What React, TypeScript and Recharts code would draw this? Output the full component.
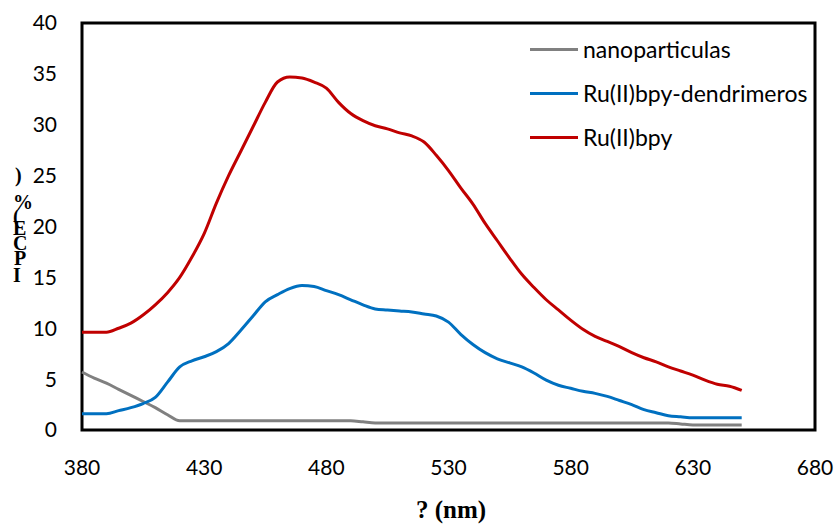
import React from "react";
import { LineChart, Line, XAxis, YAxis, ReferenceArea } from "recharts";

const wavelengths = [
  380, 385, 390, 395, 400, 405, 410, 415, 420, 425, 430, 435, 440, 445, 450, 455, 460, 465, 470,
  475, 480, 485, 490, 495, 500, 505, 510, 515, 520, 525, 530, 535, 540, 545, 550, 555, 560, 565,
  570, 575, 580, 585, 590, 595, 600, 605, 610, 615, 620, 625, 630, 635, 640, 645, 650,
];

const nanoparticulas = [
  5.7, 5.1, 4.6, 4.0, 3.4, 2.8, 2.2, 1.5, 0.9, 0.9, 0.9, 0.9, 0.9, 0.9, 0.9, 0.9, 0.9, 0.9, 0.9,
  0.9, 0.9, 0.9, 0.9, 0.8, 0.7, 0.7, 0.7, 0.7, 0.7, 0.7, 0.7, 0.7, 0.7, 0.7, 0.7, 0.7, 0.7, 0.7,
  0.7, 0.7, 0.7, 0.7, 0.7, 0.7, 0.7, 0.7, 0.7, 0.7, 0.7, 0.6, 0.5, 0.5, 0.5, 0.5, 0.5,
];

const rubpyDendrimeros = [
  1.6, 1.6, 1.6, 1.9, 2.2, 2.6, 3.2, 4.7, 6.2, 6.8, 7.2, 7.7, 8.5, 9.8, 11.2, 12.6, 13.3, 13.9, 14.2,
  14.1, 13.7, 13.3, 12.8, 12.3, 11.9, 11.8, 11.7, 11.6, 11.4, 11.2, 10.6, 9.4, 8.4, 7.6, 7.0, 6.6, 6.2, 5.6,
  4.9, 4.4, 4.1, 3.8, 3.6, 3.3, 2.9, 2.5, 2.0, 1.7, 1.4, 1.3, 1.2, 1.2, 1.2, 1.2, 1.2,
];

const rubpy = [
  9.6, 9.6, 9.6, 10.0, 10.5, 11.3, 12.3, 13.5, 15.0, 17.0, 19.3, 22.3, 25.0, 27.4, 29.8, 32.2, 34.2, 34.7, 34.6,
  34.2, 33.6, 32.2, 31.1, 30.4, 29.9, 29.6, 29.2, 28.9, 28.3, 27.0, 25.5, 23.8, 22.2, 20.3, 18.6, 16.9, 15.3, 14.0,
  12.8, 11.8, 10.8, 9.9, 9.2, 8.7, 8.2, 7.6, 7.1, 6.7, 6.2, 5.8, 5.4, 4.9, 4.5, 4.3, 3.9,
];

const xTicks = [380, 430, 480, 530, 580, 630, 680];
const yTicks = [0, 5, 10, 15, 20, 25, 30, 35, 40];

const seriesInfo = [
  { key: "nano", name: "nanoparticulas", color: "#808080" },
  { key: "dend", name: "Ru(II)bpy-dendrimeros", color: "#0070C0" },
  { key: "bpy", name: "Ru(II)bpy", color: "#C00000" },
];

const yLabelChars = [
  { ch: ")", x: 15, y: 182 },
  { ch: "%", x: 13, y: 209 },
  { ch: "(", x: 13, y: 223 },
  { ch: "E", x: 13, y: 235 },
  { ch: "C", x: 13, y: 250 },
  { ch: "P", x: 14, y: 265 },
  { ch: "I", x: 13, y: 282 },
];

const data = wavelengths.map((w, i) => ({
  w,
  nano: nanoparticulas[i],
  dend: rubpyDendrimeros[i],
  bpy: rubpy[i],
}));

const tickFont = { fontFamily: "Lato", fontSize: 21, fill: "#000" };

const YLabel = () => (
  <g>
    {yLabelChars.map((c, i) => (
      <text
        key={i}
        x={c.x}
        y={c.y}
        fontFamily="Liberation Serif"
        fontWeight="bold"
        fontSize={20}
        fill="#000"
      >
        {c.ch}
      </text>
    ))}
  </g>
);

export default function App() {
  return (
    <div style={{ position: "relative", width: 836, height: 527 }}>
      <style>{"html,body{margin:0;padding:0;overflow:hidden}"}</style>
      <LineChart
        width={836}
        height={527}
        data={data}
        margin={{ top: 23, right: 21, bottom: 57, left: 22 }}
        style={{ overflow: "visible" }}
      >
        <XAxis
          dataKey="w"
          type="number"
          domain={[380, 680]}
          ticks={xTicks}
          axisLine={false}
          tickLine={false}
          tickSize={0}
          tickMargin={30}
          height={40}
          tick={tickFont}
          interval={0}
        />
        <YAxis
          type="number"
          domain={[0, 40]}
          ticks={yTicks}
          axisLine={false}
          tickLine={false}
          tickSize={0}
          tickMargin={25}
          width={60}
          tick={tickFont}
          interval={0}
          label={{ content: () => <YLabel /> }}
        />
        <ReferenceArea
          x1={380}
          x2={680}
          y1={0}
          y2={40}
          fill="none"
          fillOpacity={0}
          stroke="#000"
          strokeWidth={3}
          ifOverflow="visible"
        />
        {seriesInfo.map((s) => (
          <Line
            key={s.key}
            dataKey={s.key}
            name={s.name}
            stroke={s.color}
            strokeWidth={3}
            dot={false}
            type="monotone"
            isAnimationActive={false}
          />
        ))}
      </LineChart>
      <div
        style={{
          position: "absolute",
          left: 530,
          top: 27,
          fontFamily: "Lato",
          fontSize: 23,
          color: "#000",
        }}
      >
        {seriesInfo.map((s) => (
          <div key={s.key} style={{ display: "flex", alignItems: "center", height: 44 }}>
            <div style={{ width: 48, height: 3, background: s.color, marginRight: 5 }} />
            <span style={{ whiteSpace: "nowrap" }}>{s.name}</span>
          </div>
        ))}
      </div>
      <div
        style={{
          position: "absolute",
          left: 0,
          top: 496,
          width: 902,
          textAlign: "center",
          fontFamily: "Liberation Serif",
          fontWeight: "bold",
          fontSize: 25,
          color: "#000",
          whiteSpace: "nowrap",
          lineHeight: "28px",
        }}
      >
        ? (nm)
      </div>
    </div>
  );
}
